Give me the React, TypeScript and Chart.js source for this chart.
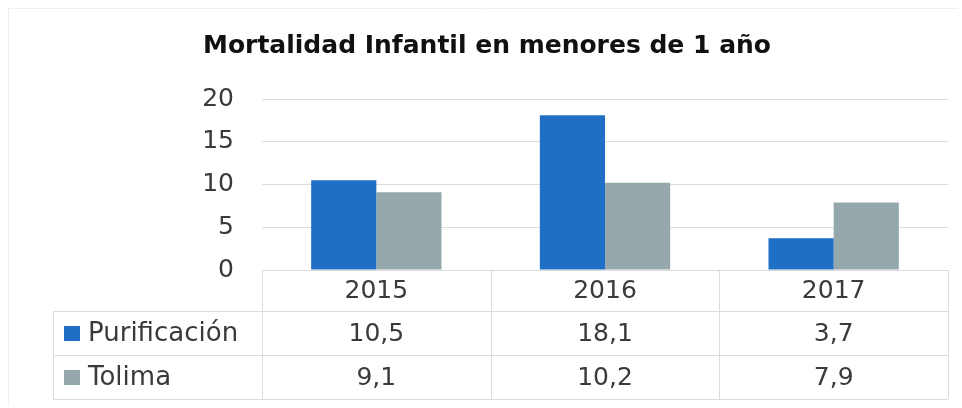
import React, { useEffect, useRef } from "react";
import { Chart, registerables } from "chart.js";

Chart.register(...registerables);

const TITLE = "Mortalidad Infantil en menores de 1 año";
const years = ["2015", "2016", "2017"];
const seriesNames = ["Purificación", "Tolima"];
const purificacion = [10.5, 18.1, 3.7];
const tolima = [9.1, 10.2, 7.9];
const seriesColors = ["#1f6fc6", "#95a8ab"];
const yMin = 0;
const yMax = 20;
const yStep = 5;

const FONT = "'DejaVu Sans', 'Noto Sans', sans-serif";
const TEXT = "#3a3a3a";
const LINE = "#dcdcdc";

const fmt = (v: number) => v.toFixed(1).replace(".", ",");

const tablePlugin = {
  id: "dataTable",
  afterDraw(chart: any) {
    const ctx: CanvasRenderingContext2D = chart.ctx;
    const area = chart.chartArea;
    const xs = chart.scales.x;
    const n = years.length;
    const w = (area.right - area.left) / n;
    const top = area.bottom;
    const r1 = top + 41;
    const r2 = r1 + 44;
    const r3 = r2 + 44;
    const legendLeft = 53;
    const crisp = (v: number) => Math.round(v) + 0.5;
    ctx.save();
    // outer faint frame
    ctx.strokeStyle = "#efefef";
    ctx.lineWidth = 1;
    ctx.beginPath();
    ctx.moveTo(crisp(8), 406);
    ctx.lineTo(crisp(8), crisp(8));
    ctx.lineTo(958, crisp(8));
    ctx.stroke();

    ctx.strokeStyle = LINE;
    const line = (x1: number, y1: number, x2: number, y2: number) => {
      ctx.beginPath();
      ctx.moveTo(x1, y1);
      ctx.lineTo(x2, y2);
      ctx.stroke();
    };
    line(area.left, crisp(top), area.right, crisp(top));
    line(legendLeft, crisp(r1), area.right, crisp(r1));
    line(legendLeft, crisp(r2), area.right, crisp(r2));
    line(legendLeft, crisp(r3), area.right, crisp(r3));
    line(crisp(legendLeft), r1, crisp(legendLeft), r3);
    for (let i = 0; i <= n; i++) {
      const xb = crisp(area.left + i * w);
      line(xb, top, xb, r3);
    }

    ctx.fillStyle = TEXT;
    ctx.font = `25px ${FONT}`;
    ctx.textBaseline = "middle";
    ctx.textAlign = "center";
    const rowsY = [(top + r1) / 2 + 1, (r1 + r2) / 2 + 1, (r2 + r3) / 2 + 1];
    years.forEach((y, i) => {
      const cx = xs.getPixelForValue(i);
      ctx.fillText(y, cx, rowsY[0]);
      ctx.fillText(fmt(purificacion[i]), cx, rowsY[1]);
      ctx.fillText(fmt(tolima[i]), cx, rowsY[2]);
    });
    ctx.textAlign = "left";
    seriesNames.forEach((name, s) => {
      const cy = rowsY[s + 1];
      ctx.fillStyle = seriesColors[s];
      ctx.fillRect(64, Math.round(cy - 8), 16, 15);
      ctx.fillStyle = TEXT;
      ctx.font = `26px ${FONT}`;
      ctx.fillText(name, 88, cy);
    });
    ctx.restore();
  },
};

export default function App() {
  const ref = useRef<HTMLCanvasElement | null>(null);
  useEffect(() => {
    if (!ref.current) return;
    const chart = new Chart(ref.current, {
      type: "bar",
      data: {
        labels: years,
        datasets: [
          {
            label: seriesNames[0],
            data: purificacion,
            backgroundColor: seriesColors[0],
            categoryPercentage: 0.57,
            barPercentage: 1,
          },
          {
            label: seriesNames[1],
            data: tolima,
            backgroundColor: seriesColors[1],
            categoryPercentage: 0.57,
            barPercentage: 1,
          },
        ],
      },
      options: {
        animation: false,
        responsive: false,
        devicePixelRatio: 1,
        layout: { padding: { left: 26, right: 14, top: 0, bottom: 138 } },
        plugins: {
          legend: { display: false },
          tooltip: { enabled: false },
          title: {
            display: true,
            text: TITLE,
            color: "#111111",
            font: { family: FONT, size: 25, weight: "bold", lineHeight: 1.2 },
            padding: { top: 31, bottom: 38 },
          },
        },
        scales: {
          x: { display: false },
          y: {
            min: yMin,
            max: yMax,
            afterFit: (scale: any) => {
              scale.width = 236;
            },
            border: { display: false },
            grid: { color: LINE, drawTicks: false },
            ticks: {
              stepSize: yStep,
              padding: 28,
              color: TEXT,
              font: { family: FONT, size: 25 },
            },
          },
        },
      },
      plugins: [tablePlugin],
    });
    return () => chart.destroy();
  }, []);
  return (
    <div style={{ position: "absolute", left: 0, top: 0, width: 962, height: 408, background: "#ffffff" }}>
      <canvas ref={ref} width={962} height={408} />
    </div>
  );
}
